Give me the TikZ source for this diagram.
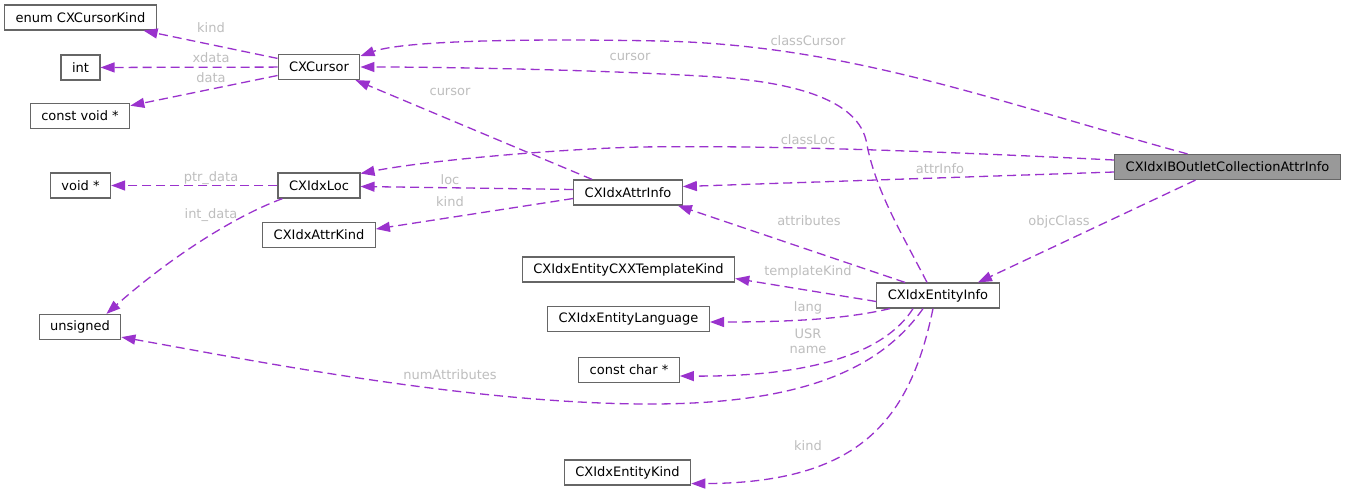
\documentclass[tikz,border=0pt]{standalone}
\usepackage{fontspec}
\setmainfont{DejaVu Sans}
\usetikzlibrary{arrows.meta}
\definecolor{edgec}{HTML}{9A32CD}
\definecolor{boxline}{HTML}{666666}
\definecolor{labc}{HTML}{BEBEBE}
\definecolor{hifill}{HTML}{999999}
\begin{document}
\begin{tikzpicture}[x=1pt,y=-1pt,
 box/.style={draw=boxline, fill=white, line width=1.2pt, inner xsep=11pt, inner ysep=0pt, minimum height=25pt, font=\fontsize{13}{15}\selectfont, text=black},
 hibox/.style={box, fill=hifill},
 rel/.style={draw=edgec, line width=1.3pt, dash pattern=on 9pt off 5pt, -{Triangle[length=14pt,width=10pt]}},
 lab/.style={text=labc, font=\fontsize{13}{15}\selectfont, inner sep=0pt, align=center}
]
\useasboundingbox[fill=white] (0,0) rectangle (1347,491);

% nodes
\node[box] (kindenum) at (80.5,17.5) {enum CXCursorKind};
\node[box] (int) at (80.5,67.5) {int};
\node[box] (cvoid) at (80,116) {const void *};
\node[box] (cursor) at (319,67) {CXCursor};
\node[box] (voidp) at (80.5,185.5) {void *};
\node[box] (loc) at (319,185.5) {CXIdxLoc};
\node[box] (attrkind) at (319,235) {CXIdxAttrKind};
\node[box] (unsigned) at (80,327) {unsigned};
\node[box] (attrinfo) at (628,192.5) {CXIdxAttrInfo};
\node[hibox] (main) at (1227.5,167) {CXIdxIBOutletCollectionAttrInfo};
\node[box] (tmpl) at (628.5,269.5) {CXIdxEntityCXXTemplateKind};
\node[box] (lang) at (628.5,319) {CXIdxEntityLanguage};
\node[box] (cchar) at (629,370) {const char *};
\node[box] (ekind) at (627.5,472.5) {CXIdxEntityKind};
\node[box] (einfo) at (938,295.5) {CXIdxEntityInfo};

% CXCursor members
\draw[rel] (cursor) -- (kindenum);
\draw[rel] (cursor) -- (int);
\draw[rel] (cursor) -- (cvoid);
\node[lab] (lkind1) at (211,28) {kind};
\node[lab] (lxdata) at (211,58) {xdata};
\node[lab] (ldata) at (211,78) {data};

% CXIdxLoc members
\draw[rel] (loc) -- (voidp);
\draw[rel] ([xshift=5pt]loc.south west) .. controls (230,218) and (165,262) .. ([xshift=-15pt]unsigned.north east);
\node[lab] (lptr) at (211,178) {ptr\_data};
\node[lab] (lint) at (211,215) {int\_data};

% CXIdxAttrInfo members
\draw[rel] ([xshift=19pt]attrinfo.north west) -- ([xshift=-5pt]cursor.south east);
\draw[rel] ([yshift=3pt]attrinfo.west) -- ([yshift=-1pt]loc.east);
\draw[rel] ([yshift=-6pt]attrinfo.west) -- ([yshift=6pt]attrkind.east);
\node[lab] (lcur1) at (450,92) {cursor};
\node[lab] (lloc) at (450,180) {loc};
\node[lab] (lkind2) at (450,202) {kind};

% main members
\draw[rel] ([xshift=-40pt]main.north) .. controls (1000,103) and (850,45) .. (660,41) .. controls (500,38) and (400,42) .. ([yshift=11pt]cursor.east);
\draw[rel] ([yshift=7pt]main.west) .. controls (950,152) and (780,145) .. (640,147) .. controls (560,149) and (430,160) .. ([yshift=12pt]loc.east);
\draw[rel] ([yshift=-5pt]main.west) -- ([yshift=6pt]attrinfo.east);
\draw[rel] ([xshift=-32pt]main.south) -- ([xshift=40pt]einfo.north);
\node[lab] (lccur) at (808,41) {classCursor};
\node[lab] (lcloc) at (808,140) {classLoc};
\node[lab] (lattr) at (940,169) {attrInfo};
\node[lab] (lobjc) at (1059,222) {objcClass};

% CXIdxEntityInfo members
\draw[rel] ([xshift=-11pt]einfo.north) .. controls (900,230) and (875,190) .. (866,140) .. controls (855,95) and (780,80) .. (700,76) .. controls (600,70) and (450,67) .. (cursor.east);
\draw[rel] ([xshift=-33pt]einfo.north) -- ([xshift=-5pt]attrinfo.south east);
\draw[rel] ([yshift=-6pt]einfo.west) -- ([yshift=-9pt]tmpl.east);
\draw[rel] ([xshift=-48pt]einfo.south) .. controls (850,318) and (800,322) .. ([yshift=-3pt]lang.east);
\draw[rel] ([xshift=-25pt]einfo.south) .. controls (890,345) and (830,377) .. ([yshift=-6pt]cchar.east);
\draw[rel] ([xshift=-15pt]einfo.south) .. controls (880,370) and (800,404) .. (650,404) .. controls (470,404) and (250,360) .. ([yshift=3pt]unsigned.south east);
\draw[rel] ([xshift=-5pt]einfo.south) .. controls (910,420) and (860,483) .. ([yshift=2pt]ekind.south east);
\node[lab] (lcur2) at (630,57) {cursor};
\node[lab] (lattrs) at (809,221) {attributes};
\node[lab] (ltmpl) at (808,272) {templateKind};
\node[lab] (llang) at (808,308) {lang};
\node[lab] (lusr) at (808,341) {USR\\name};
\node[lab] (lnum) at (450,375) {numAttributes};
\node[lab] (lkind3) at (808,446) {kind};
\end{tikzpicture}
\end{document}
